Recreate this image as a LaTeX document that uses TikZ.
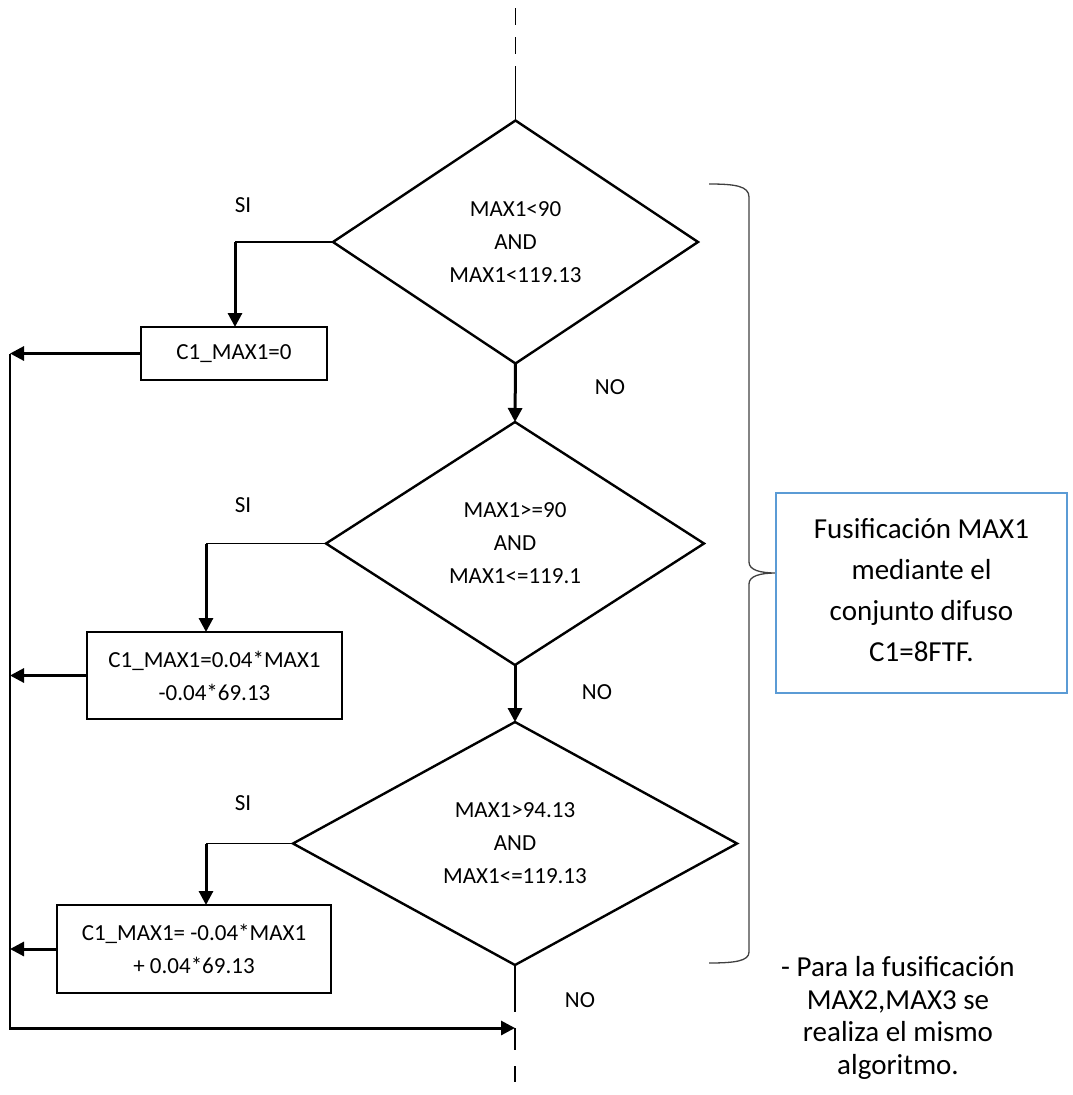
\documentclass[tikz,border=0pt]{standalone}
\usepackage{fontspec}
\setmainfont{Carlito}
\usetikzlibrary{shapes.geometric,arrows.meta}
\definecolor{boxblue}{RGB}{91,155,213}
\begin{document}
\begin{tikzpicture}[x=1pt,y=-1pt,
  every node/.style={font=\fontsize{23}{33}\selectfont},
  decision/.style={draw,diamond,line width=2.4pt,inner sep=0pt,outer sep=0pt,
    align=center,minimum width=#1,minimum height=243pt},
  procbox/.style={draw,rectangle,line width=2.4pt,inner sep=0pt,outer sep=0pt,align=center},
  flow/.style={line width=3pt,-{Triangle[length=14pt,width=14pt]}},
  thinline/.style={line width=1.5pt},
  lbl/.style={inner sep=0pt}]
\useasboundingbox (0,0) rectangle (1072,1095);

% decisions
\node[decision=365pt] (d1) at (515.5,242) {MAX1<90\\AND\\MAX1<119.13};
\node[decision=378pt] (d2) at (515,543.5) {MAX1>=90\\AND\\MAX1<=119.1};
\node[decision=444pt] (d3) at (515,843.5) {MAX1>94.13\\AND\\MAX1<=119.13};

% assignments
\node[procbox,minimum width=186pt,minimum height=53pt] (b1) at (234,353.5) {C1\_MAX1=0};
\node[procbox,minimum width=255pt,minimum height=87pt] (b2) at (214.5,675.5) {C1\_MAX1=0.04*MAX1\\-0.04*69.13};
\node[procbox,minimum width=274pt,minimum height=88pt] (b3) at (194,949) {C1\_MAX1= -0.04*MAX1\\+ 0.04*69.13};

% labels
\node[lbl] (si1) at (243,205) {SI};
\node[lbl] (si2) at (243,505) {SI};
\node[lbl] (si3) at (243,803) {SI};
\node[lbl] (no1) at (610,387) {NO};
\node[lbl] (no2) at (597,692) {NO};
\node[lbl] (no3) at (580,1000) {NO};

% main axis
\coordinate (top) at (515.5,8);
\coordinate (topj) at (515.5,73);
\draw[thinline,dash pattern=on 17pt off 12pt] (top) -- (topj);
\draw[thinline] (topj) -- (d1.north);
\draw[flow] (d1.south) -- (d2.north);
\draw[flow] (d2.south) -- (d3.north);

% yes branches
\coordinate (k1) at (235,242);
\coordinate (k2) at (206,543.5);
\coordinate (k3) at (206,843.5);
\draw[thinline] (d1.west) -- (k1);
\draw[flow] (k1) -- (k1 |- b1.north);
\draw[thinline] (d2.west) -- (k2);
\draw[flow] (k2) -- (k2 |- b2.north);
\draw[thinline] (d3.west) -- (k3);
\draw[flow] (k3) -- (k3 |- b3.north);

% return rail
\coordinate (railtop) at (10,353.5);
\coordinate (railbot) at (10,1028);
\coordinate (joint) at (515,1028);
\draw[flow] (b1.west) -- (b1.west -| railtop);
\draw[flow] (b2.west) -- (b2.west -| railtop);
\draw[flow] (b3.west) -- (b3.west -| railtop);
\draw[thinline] (railtop) -- (railbot);
\draw[flow,shorten <=-1pt] (railbot) -- (joint);

% exit
\coordinate (e1) at (515,1012);
\coordinate (e2) at (515,1050);
\coordinate (e3) at (515,1066);
\coordinate (e4) at (515,1082);
\draw[thinline] (d3.south) -- (e1);
\draw[thinline] (joint) -- (e2);
\draw[thinline] (e3) -- (e4);

% brace
\draw[line width=1.3pt,black!75] (709,184) .. controls (735,184) and (749,186) .. (749,197)
  -- (749,562) .. controls (749,570) and (760,573) .. (776,573)
  .. controls (760,573) and (749,576) .. (749,584)
  -- (749,952) .. controls (749,961) and (735,963) .. (709,963);

% summary box
\node[draw=boxblue,line width=2pt,rectangle,minimum width=291pt,minimum height=200pt,
  inner sep=0pt] (sum) at (921.5,593) {};
\node[lbl,align=center,font=\fontsize{29}{41}\selectfont] (sumtxt) at (921.5,590)
  {Fusificación MAX1\\mediante el\\conjunto difuso\\C1=8FTF.};

% note
\node[lbl,align=center,font=\fontsize{29}{32.5}\selectfont] (note) at (898,1018)
  {- Para la fusificación\\MAX2,MAX3 se\\realiza el mismo\\algoritmo.};
\end{tikzpicture}
\end{document}
